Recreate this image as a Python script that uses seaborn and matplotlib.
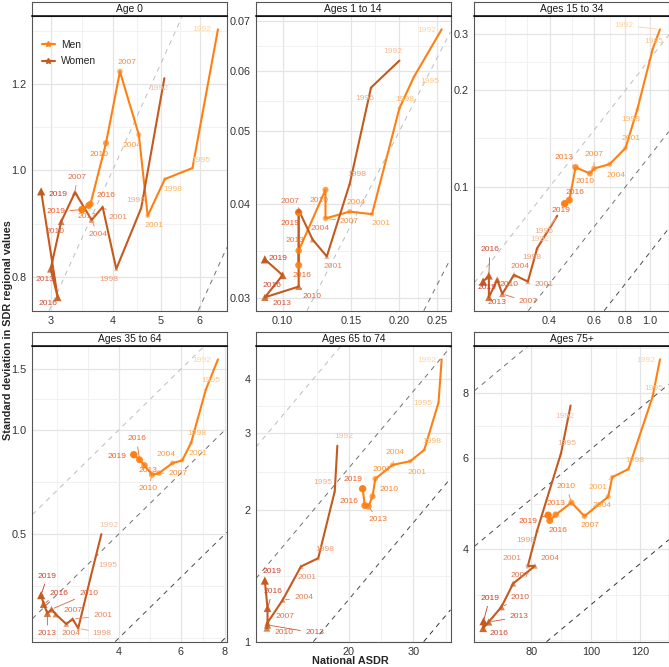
import numpy as np
import pandas as pd
import seaborn as sns
import matplotlib.pyplot as plt
from matplotlib.colors import LinearSegmentedColormap, to_rgba
from matplotlib.lines import Line2D
from matplotlib.ticker import NullFormatter

years = [1992, 1995, 1998, 2001, 2004, 2007, 2010, 2013, 2016, 2019]
panels = ["Age 0", "Ages 1 to 14", "Ages 15 to 34",
          "Ages 35 to 64", "Ages 65 to 74", "Ages 75+"]

# national ASDR (x) and SD of regional SDR (y)
men_x_0 = [6.53, 5.80, 5.10, 4.71, 4.52, 4.14, 3.88, 3.61, 3.58, 3.47]
men_y_0 = [1.345, 1.005, 0.982, 0.909, 1.078, 1.231, 1.059, 0.932, 0.929, 0.921]
women_x_0 = [5.09, 4.57, 4.07, 3.82, 3.63, 3.36, 3.15, 3.00, 3.10, 2.87]
women_y_0 = [1.214, 0.924, 0.813, 0.926, 0.901, 0.955, 0.898, 0.813, 0.766, 0.957]

men_x_1 = [0.257, 0.218, 0.200, 0.170, 0.149, 0.129, 0.129, 0.110, 0.110, 0.110]
men_y_1 = [0.0682, 0.0590, 0.0536, 0.0388, 0.0391, 0.0383, 0.0418, 0.0347, 0.0332, 0.0390]
women_x_1 = [0.200, 0.169, 0.149, 0.130, 0.1195, 0.110, 0.110, 0.090, 0.100, 0.090]
women_y_1 = [0.0620, 0.0571, 0.0426, 0.0341, 0.0359, 0.0393, 0.0311, 0.0301, 0.0322, 0.0338]

men_x_15 = [1.096, 1.025, 0.891, 0.800, 0.692, 0.600, 0.578, 0.507, 0.479, 0.459]
men_y_15 = [0.309, 0.268, 0.174, 0.132, 0.1176, 0.114, 0.110, 0.115, 0.0909, 0.0886]
women_x_15 = [0.429, 0.407, 0.357, 0.328, 0.289, 0.2596, 0.248, 0.2297, 0.2297, 0.218]
women_y_15 = [0.0813, 0.076, 0.0644, 0.0507, 0.0532, 0.0464, 0.0514, 0.0453, 0.0529, 0.0507]

men_x_35 = [7.64, 7.06, 6.41, 6.05, 5.68, 5.20, 4.97, 4.73, 4.58, 4.41]
men_y_35 = [1.599, 1.309, 0.917, 0.816, 0.802, 0.750, 0.742, 0.790, 0.820, 0.848]
women_x_35 = [3.57, 3.33, 3.07, 2.96, 2.84, 2.65, 2.58, 2.51, 2.45, 2.41]
women_y_35 = [0.4995, 0.376, 0.267, 0.284, 0.2746, 0.293, 0.303, 0.295, 0.3137, 0.333]

men_x_65 = [35.8, 35.1, 32.1, 29.4, 26.3, 23.6, 23.2, 22.6, 22.1, 21.8]
men_y_65 = [4.43, 3.53, 2.75, 2.59, 2.54, 2.36, 2.15, 2.04, 2.05, 2.24]
women_x_65 = [18.6, 18.3, 16.5, 14.8, 13.2, 12.0, 11.95, 12.0, 12.0, 11.8]
women_y_65 = [2.81, 2.21, 1.553, 1.486, 1.246, 1.105, 1.073, 1.092, 1.193, 1.38]

men_x_75 = [129.1, 125.6, 114.8, 108.1, 106.5, 97.5, 92.9, 87.6, 85.7, 85.2]
men_y_75 = [9.31, 7.88, 5.71, 5.51, 5.05, 4.63, 4.92, 4.66, 4.54, 4.65]
women_x_75 = [92.6, 89.4, 81.8, 79.0, 81.1, 74.8, 71.6, 68.3, 66.9, 67.0]
women_y_75 = [7.58, 6.14, 4.35, 3.71, 3.71, 3.43, 3.09, 2.89, 2.81, 2.90]

men_x = [men_x_0, men_x_1, men_x_15, men_x_35, men_x_65, men_x_75]
men_y = [men_y_0, men_y_1, men_y_15, men_y_35, men_y_65, men_y_75]
women_x = [women_x_0, women_x_1, women_x_15, women_x_35, women_x_65, women_x_75]
women_y = [women_y_0, women_y_1, women_y_15, women_y_35, women_y_65, women_y_75]

# axis breaks
x_breaks = [[3, 4, 5, 6], [0.10, 0.15, 0.20, 0.25], [0.4, 0.6, 0.8, 1.0],
            [4, 6, 8], [20, 30], [80, 100, 120]]
x_labels = [["3", "4", "5", "6"], ["0.10", "0.15", "0.20", "0.25"],
            ["0.4", "0.6", "0.8", "1.0"], ["4", "6", "8"], ["20", "30"],
            ["80", "100", "120"]]
y_breaks = [[0.8, 1.0, 1.2], [0.03, 0.04, 0.05, 0.06, 0.07], [0.1, 0.2, 0.3],
            [0.5, 1.0, 1.5], [1, 2, 3, 4], [4, 6, 8]]
y_labels = [["0.8", "1.0", "1.2"], ["0.03", "0.04", "0.05", "0.06", "0.07"],
            ["0.1", "0.2", "0.3"], ["0.5", "1.0", "1.5"], ["1", "2", "3", "4"],
            ["4", "6", "8"]]

# constant CV reference lines
cv_ratios = [0.25, 0.125, 0.0625, 0.03125]
cv_colors = ["#BDBDBD", "#707070", "#4A4A4A", "#333333"]

# label offsets in pixels (dx, dy, segment) - hand placed like ggrepel
men_lab = [
    [(-16, 0, 0), (8, 8, 0), (8, -10, 0), (6, -10, 0), (-7, -11, 0), (7, 9, 0),
     (-7, -11, 0), (-4, -13, 0), (17, 10, 0), (-26, -2, 1)],
    [(-15, -1, 0), (16, -5, 0), (5, 9, 0), (9, -9, 0), (6, 9, 0), (24, -3, 1),
     (-6, -11, 0), (-4, 10, 0), (3, -10, 0), (-9, -11, 0)],
    [(-36, 4, 1), (1, 8, 0), (-6, -10, 0), (6, 10, 0), (6, -11, 0), (0, 14, 1),
     (-5, -8, 0), (-12, 10, 1), (6, 8, 0), (-4, -7, 0)],
    [(-16, -1, 0), (5, 9, 0), (6, 9, 0), (16, 7, 0), (-6, 9, 0), (19, 0, 1),
     (-4, -14, 1), (3, -5, 0), (-3, 21, 1), (-17, -2, 0)],
    [(-15, -1, 0), (-16, -1, 0), (8, 8, 0), (7, -11, 0), (3, 12, 1), (7, 9, 0),
     (16, 7, 1), (10, -13, 1), (-16, 4, 0), (-10, 9, 0)],
    [(-14, -1, 0), (1, 8, 0), (6, 9, 0), (-14, -10, 1), (-6, -9, 0), (6, -9, 0),
     (-5, 16, 1), (0, 11, 0), (8, -10, 0), (-20, -6, 1)],
]
women_lab = [
    [(-6, -10, 0), (-5, 8, 0), (-7, -11, 0), (15, -10, 1), (6, -14, 1), (2, 15, 1),
     (-6, -10, 0), (-6, -11, 0), (-10, -6, 0), (17, -3, 0)],
    [(-7, 9, 0), (-6, -11, 0), (7, 9, 0), (6, -10, 0), (7, 11, 0), (-9, 8, 0),
     (13, -10, 1), (17, -6, 1), (-11, -10, 0), (13, 1, 0)],
    [(-17, -24, 1), (-8, -6, 0), (-5, -9, 0), (16, -3, 0), (6, 8, 0), (26, -8, 1),
     (12, -5, 0), (8, -5, 0), (1, 26, 1), (4, -6, 0)],
    [(7, 9, 0), (17, 11, 0), (24, -5, 1), (30, 3, 1), (5, -9, 0), (17, 4, 0),
     (37, 16, 1), (0, -20, 1), (15, 11, 1), (6, 19, 1)],
    [(7, 9, 0), (-12, 9, 0), (7, 9, 0), (6, -11, 0), (21, 2, 1), (17, 6, 0),
     (17, -4, 1), (47, -8, 1), (5, 17, 1), (7, 9, 0)],
    [(-6, -11, 0), (6, 9, 0), (-11, -10, 0), (-16, 7, 1), (15, 7, 1), (7, 8, 0),
     (19, 9, 1), (30, 5, 1), (16, -5, 0), (6, 23, 1)],
]

men_color = "#FF8012"
women_color = "#C55A1E"
men_lab_cmap = LinearSegmentedColormap.from_list(
    "men", ["#FDD49E", "#F9A84E", "#F5822C", "#EE5A24"])
women_lab_cmap = LinearSegmentedColormap.from_list(
    "women", ["#F2C0A0", "#E58A60", "#D8643C", "#C83C2A"])

sns.set_style("white")
plt.rcParams['font.family'] = ['Liberation Sans', 'DejaVu Sans']

W, H = 669, 667
fig = plt.figure(figsize=(W / 100, H / 100), dpi=100)

col_left = [32.3, 256.0, 474.3]
panel_w = 194.5
row_top = [16.0, 346.0]
panel_h = [294.7, 295.7]
strip_h = 14.5


def minor_breaks(majors, lo, hi):
    b = list(np.log10(majors))
    bd = b[1] - b[0]
    if lo < b[0]:
        b = [b[0] - bd] + b
    if hi > b[-1]:
        b = b + [b[-1] + bd]
    out = []
    for a, c in zip(b[:-1], b[1:]):
        out += [a, (a + c) / 2]
    out.append(b[-1])
    return [10 ** v for v in out if lo <= v <= hi]


def log_lims(vals):
    lv = np.log10(vals)
    r = lv.max() - lv.min()
    return 10 ** (lv.min() - 0.05 * r), 10 ** (lv.max() + 0.05 * r)


t = (np.array(years) - years[0]) / (years[-1] - years[0])
sizes = 2 + 26 * t
alphas = 0.2 + 0.8 * t

for i, name in enumerate(panels):
    r, c = divmod(i, 3)
    left = col_left[c] / W
    bottom = 1 - (row_top[r] + panel_h[r]) / H
    ax = fig.add_axes([left, bottom, panel_w / W, panel_h[r] / H])

    df = pd.DataFrame({
        "asdr": men_x[i] + women_x[i],
        "sd": men_y[i] + women_y[i],
        "sex": ["Men"] * 10 + ["Women"] * 10,
        "year": years * 2,
    })

    ax.set_xscale("log")
    ax.set_yscale("log")
    xlo, xhi = log_lims(df["asdr"].values)
    ylo, yhi = log_lims(df["sd"].values)

    for ratio, col in zip(cv_ratios, cv_colors):
        ax.axline((1, ratio), (10, 10 * ratio), color=col, lw=0.7,
                  ls=(0, (5, 5)), zorder=1)

    sns.lineplot(data=df, x="asdr", y="sd", hue="sex", sort=False,
                 estimator=None, palette={"Men": men_color, "Women": women_color},
                 lw=1.5, legend=False, ax=ax, zorder=3)

    for sex, col, mk, cmap, labs in [("Men", men_color, "o", men_lab_cmap, men_lab[i]),
                                     ("Women", women_color, "^", women_lab_cmap, women_lab[i])]:
        d = df[df["sex"] == sex]
        rgba = [to_rgba(col, a) for a in alphas]
        ax.scatter(d["asdr"], d["sd"], s=sizes * (1.25 if mk == "^" else 1.0),
                   c=rgba, marker=mk, linewidths=0, zorder=4)
        for k, (xv, yv, yr) in enumerate(zip(d["asdr"], d["sd"], d["year"])):
            dx, dy, seg = labs[k]
            lc = cmap(t[k])
            ap = dict(arrowstyle="-", color=lc, lw=0.6, shrinkA=1, shrinkB=2) if seg else None
            ax.annotate(str(yr), (xv, yv), xytext=(dx, dy), textcoords="offset pixels",
                        ha="center", va="center", fontsize=6.1, color=lc,
                        arrowprops=ap, zorder=5, clip_on=True)

    ax.set_xlim(xlo, xhi)
    ax.set_ylim(ylo, yhi)
    lxlo, lxhi = np.log10(xlo), np.log10(xhi)
    lylo, lyhi = np.log10(ylo), np.log10(yhi)
    ax.set_xticks(x_breaks[i])
    ax.set_xticklabels(x_labels[i])
    ax.set_yticks(y_breaks[i])
    ax.set_yticklabels(y_labels[i])
    ax.set_xticks(minor_breaks(x_breaks[i], lxlo, lxhi), minor=True)
    ax.set_yticks(minor_breaks(y_breaks[i], lylo, lyhi), minor=True)
    ax.xaxis.set_minor_formatter(NullFormatter())
    ax.yaxis.set_minor_formatter(NullFormatter())
    ax.grid(which="major", color="#E4E4E4", lw=0.9, zorder=0)
    ax.grid(which="minor", color="#EFEFEF", lw=0.6, zorder=0)
    ax.set_axisbelow(True)
    ax.tick_params(which="major", length=2.5, width=0.6, color="#333333",
                   labelsize=7.8, labelcolor="#333333", pad=1.5)
    ax.tick_params(which="minor", length=0)
    for sp in ax.spines.values():
        sp.set_color("#555555")
        sp.set_linewidth(0.8)
    ax.set_xlabel("")
    ax.set_ylabel("")

    # facet strip
    sax = fig.add_axes([left, 1 - row_top[r] / H, panel_w / W, strip_h / H])
    sax.set_xticks([])
    sax.set_yticks([])
    sax.set_facecolor("white")
    for sp in sax.spines.values():
        sp.set_color("#555555")
        sp.set_linewidth(0.8)
    sax.spines["bottom"].set_color("black")
    sax.spines["bottom"].set_linewidth(1.1)
    sax.text(0.5, 0.45, name, ha="center", va="center", fontsize=7.4,
             color="#1A1A1A", transform=sax.transAxes)

    if i == 0:
        handles = [Line2D([], [], color=men_color, lw=1.5, marker="*", ms=4),
                   Line2D([], [], color=women_color, lw=1.5, marker="*", ms=4)]
        ax.legend(handles, ["Men", "Women"], loc="upper left", frameon=False,
                  fontsize=7.4, handlelength=1.3, handletextpad=0.6,
                  labelspacing=0.6, bbox_to_anchor=(0.0, 0.95))

fig.text(8 / W, 1 - 330 / H, "Standard deviation in SDR regional values",
         rotation=90, ha="center", va="center", fontsize=7.8, fontweight="bold")
fig.text(350 / W, 1 - 661 / H, "National ASDR", ha="center", va="center",
         fontsize=7.8, fontweight="bold")

plt.savefig("out.png", dpi=100)
